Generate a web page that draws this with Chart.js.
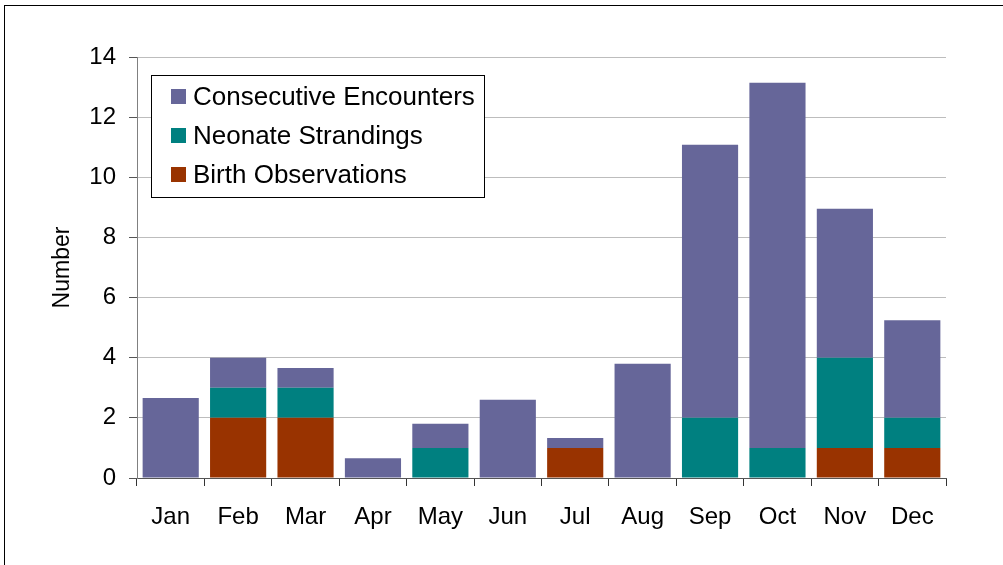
<!DOCTYPE html>
<html>
<head>
<meta charset="utf-8">
<script src="https://cdn.jsdelivr.net/npm/chart.js@4.4.1/dist/chart.umd.min.js"></script>
<style>
  html, body { margin: 0; padding: 0; background: #fff; overflow: hidden; }
  #wrap { position: relative; width: 1003px; height: 565px; }
  #frame { position: absolute; left: 4px; top: 5px; width: 1100px; height: 700px; border: 1px solid #000; box-sizing: border-box; pointer-events: none; }
  canvas { position: absolute; left: 0; top: 0; }
</style>
</head>
<body>
<div id="wrap">
  <canvas id="c" width="1003" height="565"></canvas>
  <div id="frame"></div>
</div>
<script>
const months = ["Jan","Feb","Mar","Apr","May","Jun","Jul","Aug","Sep","Oct","Nov","Dec"];
const birthObservations    = [0, 2, 2, 0, 0, 0, 1, 0, 0, 0, 1, 1];
const neonateStrandings    = [0, 1, 1, 0, 1, 0, 0, 0, 2, 1, 3, 1];
const consecutiveEncounters = [2.66, 1.0, 0.66, 0.66, 0.8, 2.6, 0.33, 3.8, 9.08, 12.14, 4.95, 3.25];
const yTicks = [0, 2, 4, 6, 8, 10, 12, 14];

const FONT = "'Liberation Sans', Arial, sans-serif";

const legendPlugin = {
  id: 'boxLegend',
  afterDraw(chart) {
    const ctx = chart.ctx;
    const bx = 151, by = 75, bw = 333, bh = 122;
    ctx.save();
    ctx.fillStyle = '#fff';
    ctx.fillRect(bx, by, bw, bh);
    ctx.strokeStyle = '#000';
    ctx.lineWidth = 1;
    ctx.strokeRect(bx + 0.5, by + 0.5, bw, bh);
    const items = chart.data.datasets.slice().reverse();
    ctx.font = '26px ' + FONT;
    ctx.textBaseline = 'middle';
    ctx.textAlign = 'left';
    items.forEach((ds, i) => {
      const cy = 96.5 + i * 39;
      ctx.fillStyle = ds.backgroundColor;
      ctx.fillRect(171, cy - 7.5, 15, 15);
      ctx.fillStyle = '#000';
      ctx.fillText(ds.label, 193, cy + 1);
    });
    ctx.restore();
  }
};

new Chart(document.getElementById('c'), {
  type: 'bar',
  data: {
    labels: months,
    datasets: [
      { label: 'Birth Observations', data: birthObservations, backgroundColor: '#993300' },
      { label: 'Neonate Strandings', data: neonateStrandings, backgroundColor: '#008080' },
      { label: 'Consecutive Encounters', data: consecutiveEncounters, backgroundColor: '#666699' }
    ]
  },
  options: {
    responsive: false,
    animation: false,
    devicePixelRatio: 1,
    datasets: { bar: { categoryPercentage: 0.833, barPercentage: 1.0, borderWidth: 0 } },
    layout: { padding: { left: 0, top: 57, right: 57, bottom: 0 } },
    plugins: { legend: { display: false }, tooltip: { enabled: false } },
    scales: {
      x: {
        stacked: true,
        afterFit(s) { s.height = 87; },
        grid: { display: true, drawOnChartArea: false, offset: true, tickLength: 8, tickColor: '#333', lineWidth: 1 },
        border: { display: true, color: '#555', width: 1 },
        ticks: { color: '#000', font: { family: FONT, size: 24 }, padding: 17, maxRotation: 0 }
      },
      y: {
        stacked: true,
        min: 0, max: 14,
        afterFit(s) { s.width = 137; },
        afterBuildTicks(s) { s.ticks = yTicks.map(v => ({ value: v })); },
        grid: { color: '#bdbdbd', lineWidth: 1, tickLength: 8, tickColor: '#555' },
        border: { display: true, color: '#808080', width: 1 },
        ticks: { color: '#000', font: { family: FONT, size: 24 }, padding: 13 },
        title: { display: true, text: 'Number', color: '#000', font: { family: FONT, size: 23 }, padding: { top: 49, bottom: 0 } }
      }
    }
  },
  plugins: [legendPlugin]
});
</script>
</body>
</html>
